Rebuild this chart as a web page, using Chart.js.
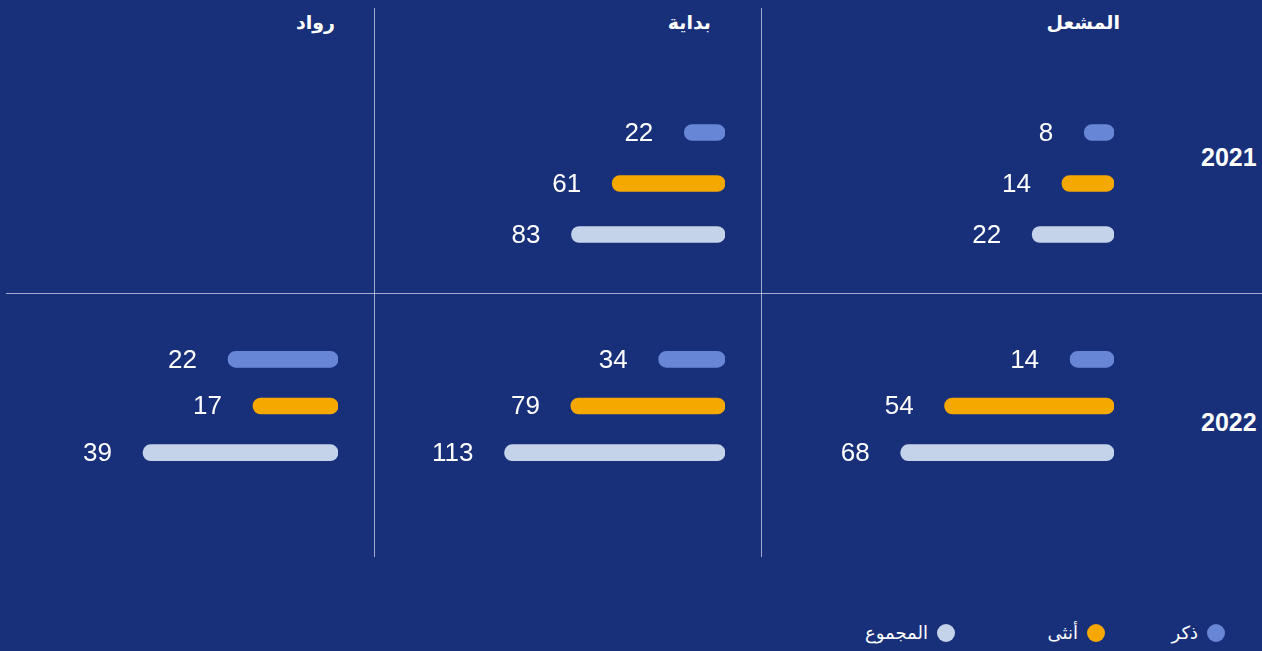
<!DOCTYPE html>
<html lang="ar">
<head>
<meta charset="utf-8">
<script src="https://cdn.jsdelivr.net/npm/chart.js@4"></script>
<style>
  html, body { margin: 0; padding: 0; }
  body {
    width: 1262px; height: 651px; overflow: hidden; position: relative;
    background: #182f7a; color: #fff;
    font-family: "Liberation Sans", Arial, "DejaVu Sans", sans-serif;
  }
  .vline { position: absolute; width: 1px; top: 8px; height: 549px; background: rgba(255,255,255,0.6); }
  .hline { position: absolute; height: 1px; left: 6px; width: 1256px; top: 293px; background: rgba(255,255,255,0.6); }
  .colhead { position: absolute; top: 11px; font-weight: bold; font-size: 19px; direction: rtl; text-align: right; white-space: nowrap; }
  .rowhead { position: absolute; left: 1201px; font-weight: bold; font-size: 25px; }
  .cell { position: absolute; }
  .legend { position: absolute; top: 622px; font-size: 18px; direction: rtl; white-space: nowrap; display: flex; align-items: center; }
  .legend .dot { display: inline-block; width: 18px; height: 18px; border-radius: 50%; margin-left: 9px; }
</style>
</head>
<body>
<div class="vline" style="left:374px"></div>
<div class="vline" style="left:761px"></div>
<div class="hline"></div>
<div id="heads"></div>
<div id="cells"></div>
<div id="legend"></div>
<script>
// ---- data ----
const programs = ['المشعل', 'بداية', 'رواد'];
const years = ['2021', '2022'];
const seriesNames = ['ذكر', 'أنثى', 'المجموع'];
const male2021   = [8, 22, null];
const female2021 = [14, 61, null];
const total2021  = [22, 83, null];
const male2022   = [14, 34, 22];
const female2022 = [54, 79, 17];
const total2022  = [68, 113, 39];
const seriesColors = ['#6886d6', '#f5a800', '#c5d3ea'];

// ---- layout (not data) ----
const colRight = [1114, 725, 338];
const headRight = [1120, 711, 335];
const rowTop = [107, 336];
const rowHeight = [153, 140];
const rowLabelTop = [143, 408];
const cellWidth = 320;
const cellAxisMax = [[86, 173, 60], [102, 164, 64]];
const legendRight = [1225, 1105, 955];

const rows = [
  [male2021, female2021, total2021],
  [male2022, female2022, total2022]
];

// headers
const heads = document.getElementById('heads');
programs.forEach((p, i) => {
  const d = document.createElement('div');
  d.className = 'colhead';
  d.textContent = p;
  d.style.right = (1262 - headRight[i]) + 'px';
  heads.appendChild(d);
});
years.forEach((y, r) => {
  const d = document.createElement('div');
  d.className = 'rowhead';
  d.textContent = y;
  d.style.top = rowLabelTop[r] + 'px';
  heads.appendChild(d);
});

// legend
const legend = document.getElementById('legend');
seriesNames.forEach((s, i) => {
  const d = document.createElement('div');
  d.className = 'legend';
  d.style.right = (1262 - legendRight[i]) + 'px';
  d.innerHTML = '<span class="dot" style="background:' + seriesColors[i] + '"></span><span>' + s + '</span>';
  legend.appendChild(d);
});

const valueLabels = {
  id: 'valueLabels',
  afterDatasetsDraw(chart) {
    const ctx = chart.ctx;
    ctx.save();
    ctx.fillStyle = '#ffffff';
    ctx.font = '26px "Liberation Sans", Arial, sans-serif';
    ctx.textAlign = 'right';
    ctx.textBaseline = 'middle';
    chart.data.datasets.forEach((ds, di) => {
      chart.getDatasetMeta(di).data.forEach((bar, i) => {
        const v = ds.data[i];
        if (v == null) return;
        const left = Math.min(bar.x, bar.base);
        ctx.fillText(String(v), left - 31, bar.y + 1);
      });
    });
    ctx.restore();
  }
};

const cells = document.getElementById('cells');
rows.forEach((series, r) => {
  programs.forEach((p, c) => {
    const values = series.map(s => s[c]);
    if (values.every(v => v == null)) return;
    const wrap = document.createElement('div');
    wrap.className = 'cell';
    wrap.style.left = (colRight[c] - cellWidth) + 'px';
    wrap.style.top = rowTop[r] + 'px';
    const cv = document.createElement('canvas');
    cv.width = cellWidth;
    cv.height = rowHeight[r];
    cv.style.width = cellWidth + 'px';
    cv.style.height = rowHeight[r] + 'px';
    wrap.appendChild(cv);
    cells.appendChild(wrap);
    new Chart(cv, {
      type: 'bar',
      data: {
        labels: seriesNames,
        datasets: [{
          data: values,
          backgroundColor: seriesColors,
          barThickness: 16,
          borderRadius: 8,
          borderSkipped: false
        }]
      },
      options: {
        indexAxis: 'y',
        responsive: false,
        devicePixelRatio: 1,
        animation: false,
        layout: { padding: 0 },
        plugins: { legend: { display: false }, tooltip: { enabled: false } },
        scales: {
          x: { type: 'linear', reverse: true, min: 0, max: cellAxisMax[r][c], display: false },
          y: { display: false }
        }
      },
      plugins: [valueLabels]
    });
  });
});
</script>
</body>
</html>
